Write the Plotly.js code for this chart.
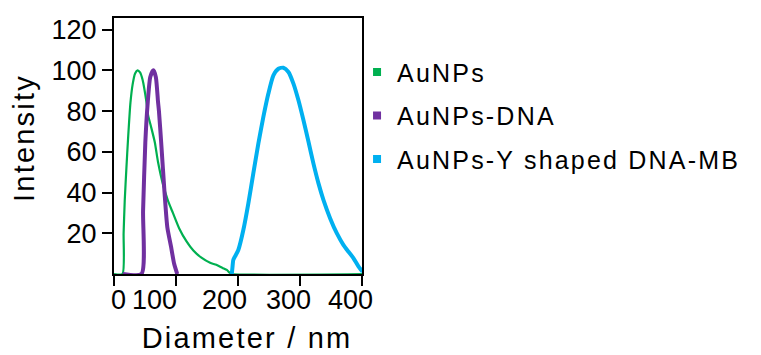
<!DOCTYPE html>
<html>
<head>
<meta charset="utf-8">
<script src="https://cdn.plot.ly/plotly-3.0.1.min.js"></script>
<style>
  html, body { margin: 0; padding: 0; background: #fff; }
  #chart { width: 761px; height: 355px; }
  .legendtext, .xtitle, .ytitle { letter-spacing: 2.2px; }
  .g-xtitle { transform: translate(9px, 3px); }
  .g-ytitle { transform: translate(0px, -8px); }
</style>
</head>
<body>
<div id="chart"></div>
<script>
// ---- data ----
const seriesNames = ['AuNPs', 'AuNPs-DNA', 'AuNPs-Y shaped DNA-MB'];

const aunpsX = [0, 13.6, 15.5, 17.3, 20, 22.6, 26.5, 30, 34, 38, 42, 46, 52.4, 55, 60, 65.8, 71, 79, 87, 95, 105, 117, 128, 141, 155, 165, 175, 182, 187, 190, 420];
const aunpsY = [0, 0, 20, 36, 52, 66, 84, 93, 98.5, 100, 99, 95.5, 84.3, 78, 72, 64.7, 55, 44, 36, 30, 22.5, 16, 11.5, 8, 5.5, 4.5, 3, 2, 0.5, 0, 0];

const dnaX = [14, 44.3, 46.9, 50.5, 54.5, 58.5, 63.5, 67.5, 71, 72.5, 76, 81.5, 86, 92, 97, 102];
const dnaY = [0, 0, 31, 64.5, 84.5, 96.7, 100, 96.7, 84.5, 80, 65, 40, 23, 13.4, 5, 0];

const mbX = [190, 191, 192.4, 195, 200.5, 208.6, 216.7, 224.7, 232.8, 240.9, 249, 257.1, 265.2, 273.2, 281.3, 289.4, 297.5, 305.6, 313.7, 321.7, 329.8, 337.9, 348.7, 359.5, 370.2, 378.3, 386.4, 394.5, 401];
const mbY = [0, 3, 6.9, 8.5, 11.8, 21.6, 34.7, 49.4, 64, 77.1, 88.6, 97.5, 100.8, 101.3, 99.2, 93.5, 85.3, 75.5, 64.9, 54.2, 44.5, 36.3, 27.3, 19.9, 14.2, 10.9, 7.7, 3.6, 1.1];

const xTickVals = [0, 100, 200, 300, 400];
const xTickText = ['0', '100', '200', '300', '400'];
const yTickVals = [20, 40, 60, 80, 100, 120];
const yTickText = ['20', '40', '60', '80', '100', '120'];

// ---- styles ----
const colors = ['#00B050', '#7030A0', '#00B0F0'];
const widths = [2.2, 4, 4];
const xLabelShift = [4, -22, -14, -12, -12]; // px, label placement as drawn in the reference
const FONT = 'Arial, "Liberation Sans", sans-serif';

const xs = [aunpsX, dnaX, mbX];
const ys = [aunpsY, dnaY, mbY];

const traces = [];
for (let i = 0; i < 3; i++) {
  traces.push({
    x: xs[i], y: ys[i], type: 'scatter', mode: 'lines',
    line: { color: colors[i], width: widths[i], shape: 'spline', smoothing: 0.6 },
    showlegend: false, hoverinfo: 'skip'
  });
}
for (let i = 0; i < 3; i++) {
  traces.push({
    x: [null], y: [null], type: 'scatter', mode: 'markers',
    marker: { symbol: 'square', size: 8, color: colors[i] },
    name: seriesNames[i], legendgroup: 'g' + i, showlegend: true
  });
}

const annotations = xTickVals.map((v, i) => ({
  x: v, xref: 'x', y: 0, yref: 'paper', yanchor: 'top', xanchor: 'center',
  yshift: -9, xshift: xLabelShift[i], text: xTickText[i], showarrow: false,
  font: { family: FONT, size: 27, color: '#000' }
}));

const layout = {
  width: 761, height: 355,
  margin: { l: 114, r: 399, t: 18, b: 81, pad: 0 },
  paper_bgcolor: '#fff', plot_bgcolor: '#fff',
  font: { family: FONT, color: '#000' },
  showlegend: true,
  legend: {
    x: 0.98, xanchor: 'left', y: 0.878, yanchor: 'top',
    font: { family: FONT, size: 25, color: '#000' },
    traceorder: 'grouped', tracegroupgap: 8,
    bgcolor: 'rgba(0,0,0,0)', borderwidth: 0
  },
  xaxis: {
    range: [0, 400], tickvals: xTickVals, ticktext: xTickText, showticklabels: false,
    ticks: 'outside', ticklen: 10, tickwidth: 2, tickcolor: '#000',
    showline: true, linecolor: '#000', linewidth: 2, mirror: true,
    showgrid: false, zeroline: false,
    title: { text: 'Diameter / nm', font: { family: FONT, size: 29, color: '#000' }, standoff: 40 }
  },
  yaxis: {
    range: [0, 125.7], tickvals: yTickVals, ticktext: yTickText,
    ticks: 'outside', ticklen: 10, tickwidth: 2, tickcolor: '#000',
    tickfont: { family: FONT, size: 27, color: '#000' },
    showline: true, linecolor: '#000', linewidth: 2, mirror: true,
    showgrid: false, zeroline: false,
    title: { text: 'Intensity', font: { family: FONT, size: 29, color: '#000' }, standoff: 8 }
  },
  annotations: annotations
};

Plotly.newPlot('chart', traces, layout, { staticPlot: true, displayModeBar: false });
</script>
</body>
</html>
